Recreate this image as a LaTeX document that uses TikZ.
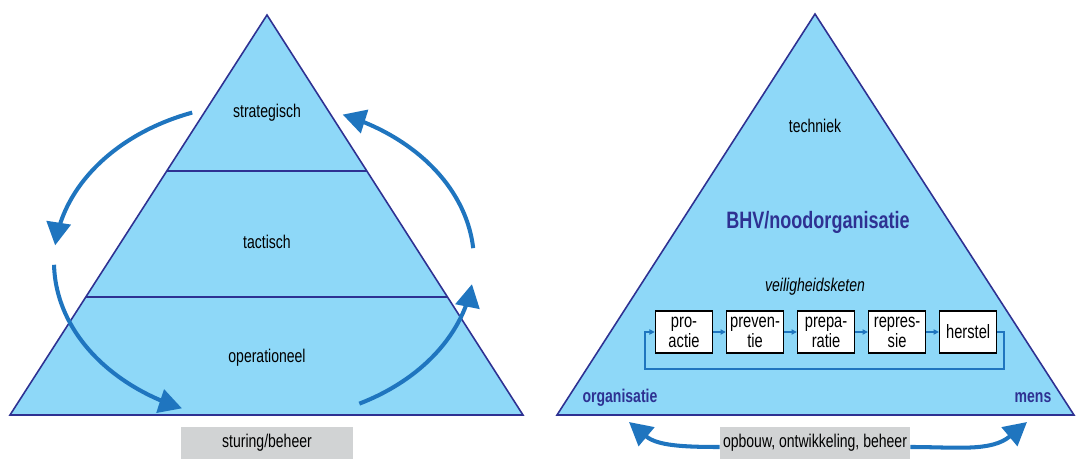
\documentclass[tikz,border=0pt]{standalone}
\usepackage{fontspec}
\setmainfont{Liberation Sans}[FakeStretch=0.76]
\usetikzlibrary{arrows.meta,positioning,calc}
\definecolor{lichtblauw}{HTML}{8ED8F8}
\definecolor{donkerblauw}{HTML}{2E3192}
\definecolor{pijlblauw}{HTML}{1F75BF}
\definecolor{grijs}{HTML}{D1D3D4}
\begin{document}
\begin{tikzpicture}[x=0.02cm, y=-0.02cm,
    laag/.style={fill=lichtblauw, draw=donkerblauw, line width=0.9pt},
    tekst/.style={font=\fontsize{10.5}{12}\selectfont, inner sep=1pt},
    nadruk/.style={font=\fontsize{10.5}{12}\selectfont\bfseries, text=donkerblauw, inner sep=1pt},
    kader/.style={fill=grijs, minimum height=0.65cm, inner sep=0pt, font=\fontsize{10.5}{12}\selectfont},
    schakel/.style={draw=black, fill=white, line width=0.6pt, minimum width=1.15cm, minimum height=0.84cm, inner sep=0pt, align=center, font=\fontsize{11}{11.5}\selectfont},
    dikpijl/.style={draw=pijlblauw, line width=2.3pt, -{Triangle[length=0.46cm, width=0.48cm]}},
    dunpijl/.style={draw=pijlblauw, line width=0.6pt, -{Triangle[length=3pt, width=3pt]}}]
    \useasboundingbox (0,0) rectangle (1080,459);
    % linker piramide
    \coordinate (L top) at (267,15);
    \coordinate (L links) at (10,415);
    \coordinate (L rechts) at (523,415);
    \draw[laag] (L top) -- (L links) -- (L rechts) -- cycle;
    \foreach \f in {0.39,0.705} {
        \draw[donkerblauw, line width=0.9pt] ($(L top)!\f!(L links)$) -- ($(L top)!\f!(L rechts)$);
    }
    \node[tekst] (strategisch) at (267,113) {strategisch};
    \node[tekst] (tactisch) at (267,242) {tactisch};
    \node[tekst] (operationeel) at (267,358) {operationeel};
    % kringloop
    \foreach \van/\tot in {-110/-174, 179/113, 63/8, -5/-68} {
        \draw[dikpijl] plot[domain=\van:\tot, smooth, samples=30] ({264+210*cos(\x)}, {262+159*sin(\x)});
    }
    \node[kader, minimum width=3.44cm] (sturing) at (267,443) {sturing/beheer};
    % rechter piramide
    \coordinate (R top) at (815,14);
    \coordinate (R links) at (557,415);
    \coordinate (R rechts) at (1074,415);
    \draw[laag] (R top) -- (R links) -- (R rechts) -- cycle;
    \node[tekst] (techniek) at (815,126) {techniek};
    \node[tekst, font=\fontsize{13.5}{15}\selectfont\bfseries, text=donkerblauw] (bhv) at (818,222) {BHV/noodorganisatie};
    \node[tekst, font=\fontsize{10.5}{12}\selectfont\itshape] (keten) at (815,287) {veiligheidsketen};
    \node[schakel] (s1) at (684,332) {pro-\\actie};
    \node[schakel, right=0.25cm of s1] (s2) {preven-\\tie};
    \node[schakel, right=0.25cm of s2] (s3) {prepa-\\ratie};
    \node[schakel, right=0.25cm of s3] (s4) {repres-\\sie};
    \node[schakel, right=0.25cm of s4] (s5) {herstel};
    \foreach \a/\b in {s1/s2, s2/s3, s3/s4, s4/s5} {
        \draw[dunpijl] (\a) -- (\b);
    }
    \coordinate (terug rechts) at (1004,369);
    \coordinate (terug links) at (645,369);
    \draw[dunpijl] (s5.east) -| (terug rechts) -- (terug links) |- (s1.west);
    \node[nadruk] (organisatie) at (620,398) {organisatie};
    \node[nadruk] (mens) at (1033,398) {mens};
    % opbouw
    \node[kader, minimum width=3.8cm] (opbouw) at (815,443) {opbouw, ontwikkeling, beheer};
    \coordinate (pijl links) at (629,422);
    \coordinate (pijl rechts) at (1027,422);
    \draw[dikpijl] ([yshift=-0.08cm]opbouw.west) to[out=180, in=-40] (pijl links);
    \draw[dikpijl] ([yshift=-0.08cm]opbouw.east) to[out=0, in=220] (pijl rechts);
\end{tikzpicture}
\end{document}
